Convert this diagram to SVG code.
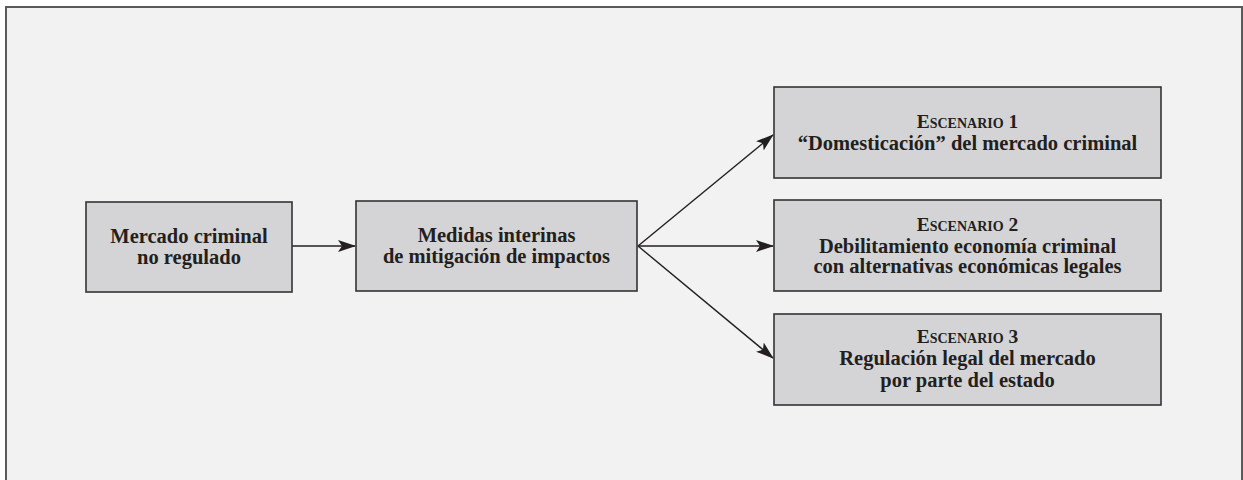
<svg xmlns="http://www.w3.org/2000/svg" width="1243" height="480" viewBox="0 0 1243 480">
<defs>
<style>
.frame{fill:#f2f2f2;stroke:#5a5a5a;stroke-width:2}
.box{fill:#d4d4d6;stroke:#333333;stroke-width:1.6}
.t{font-family:"Liberation Serif","Times New Roman",serif;font-weight:bold;font-size:20.5px;fill:#231f20;text-anchor:middle}
.sc{font-variant:small-caps;font-size:19.5px}
.c{stroke:#231f20;stroke-width:1.4;fill:none}
</style>
<marker id="ah" markerWidth="18" markerHeight="12" refX="17" refY="6" orient="auto" markerUnits="userSpaceOnUse">
<path d="M0,0 L18,6 L0,12 L4,6 Z" fill="#231f20"/>
</marker>
</defs>
<rect class="frame" x="6" y="7" width="1236" height="490"/>
<g id="connectors">
<line class="c" x1="292" y1="246" x2="355" y2="246" marker-end="url(#ah)"/>
<line class="c" x1="638" y1="246" x2="773" y2="135" marker-end="url(#ah)"/>
<line class="c" x1="638" y1="246" x2="773" y2="246" marker-end="url(#ah)"/>
<line class="c" x1="638" y1="246" x2="773" y2="358" marker-end="url(#ah)"/>
</g>
<g id="n1">
<rect class="box" x="86" y="202" width="206" height="90"/>
<text class="t" x="189" y="243">Mercado criminal</text>
<text class="t" x="189" y="264">no regulado</text>
</g>
<g id="n2">
<rect class="box" x="356" y="201" width="281" height="90"/>
<text class="t" x="496.5" y="242">Medidas interinas</text>
<text class="t" x="496.5" y="263">de mitigación de impactos</text>
</g>
<g id="s1">
<rect class="box" x="774" y="87" width="387" height="91"/>
<text class="t sc" x="967.5" y="128">Escenario 1</text>
<text class="t" x="967.5" y="150">“Domesticación” del mercado criminal</text>
</g>
<g id="s2">
<rect class="box" x="774" y="200" width="387" height="91"/>
<text class="t sc" x="967.5" y="231">Escenario 2</text>
<text class="t" x="967.5" y="252.5">Debilitamiento economía criminal</text>
<text class="t" x="967.5" y="273">con alternativas económicas legales</text>
</g>
<g id="s3">
<rect class="box" x="774" y="314" width="387" height="91"/>
<text class="t sc" x="967.5" y="343">Escenario 3</text>
<text class="t" x="967.5" y="365">Regulación legal del mercado</text>
<text class="t" x="967.5" y="387">por parte del estado</text>
</g>
</svg>
